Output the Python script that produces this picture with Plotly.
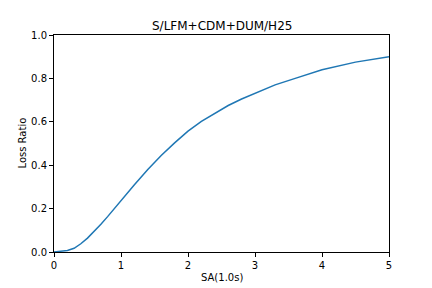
import plotly.graph_objects as go

sa = [0, 0.1, 0.2, 0.3, 0.4, 0.5, 0.6, 0.7, 0.8, 0.9, 1.0, 1.2, 1.4, 1.6, 1.8,
      2.0, 2.2, 2.4, 2.6, 2.8, 3.0, 3.3, 3.6, 4.0, 4.5, 5.0]
loss_ratio = [0, 0.002, 0.007, 0.017, 0.038, 0.064, 0.094, 0.128, 0.163, 0.200,
              0.238, 0.310, 0.380, 0.445, 0.503, 0.557, 0.602, 0.640, 0.675,
              0.705, 0.732, 0.770, 0.800, 0.840, 0.875, 0.900]
title_text = "S/LFM+CDM+DUM/H25"
x_title = "SA(1.0s)"
y_title = "Loss Ratio"

W, H = 432, 288
L, R, T, B = 54, 43, 35, 36
pw, ph = W - L - R, H - T - B

fig = go.Figure(go.Scatter(x=sa, y=loss_ratio, mode="lines",
                           line=dict(color="#1f77b4", width=1.5)))

axis_common = dict(showline=True, linecolor="black", linewidth=1, mirror=True,
                   ticks="outside", ticklen=4, tickcolor="black", tickwidth=1,
                   showgrid=False, zeroline=False, automargin=False,
                   tickfont=dict(family="DejaVu Sans", size=10, color="black"))

label_font = dict(family="DejaVu Sans", size=10, color="black")

fig.update_layout(
    width=W, height=H,
    margin=dict(l=L, r=R, t=T, b=B),
    paper_bgcolor="white", plot_bgcolor="white",
    showlegend=False,
    font=dict(family="DejaVu Sans", color="black"),
    xaxis=dict(range=[0, 5], tickvals=[0, 1, 2, 3, 4, 5], **axis_common),
    yaxis=dict(range=[0, 1], tickvals=[0, 0.2, 0.4, 0.6, 0.8, 1.0], tickformat=".1f",
               **axis_common),
    annotations=[
        dict(text=title_text, xref="paper", yref="paper", x=0.5,
             y=1 + (T - 26) / ph, xanchor="center", yanchor="middle",
             showarrow=False, font=dict(family="DejaVu Sans", size=12, color="black")),
        dict(text=x_title, xref="paper", yref="paper", x=0.5,
             y=-(277 - (H - B)) / ph, xanchor="center", yanchor="middle",
             showarrow=False, font=label_font),
        dict(text=y_title, xref="paper", yref="paper", x=-(L - 22) / pw,
             y=0.5, xanchor="center", yanchor="middle", textangle=-90,
             showarrow=False, font=label_font),
    ],
)

fig.write_html("out.html")
